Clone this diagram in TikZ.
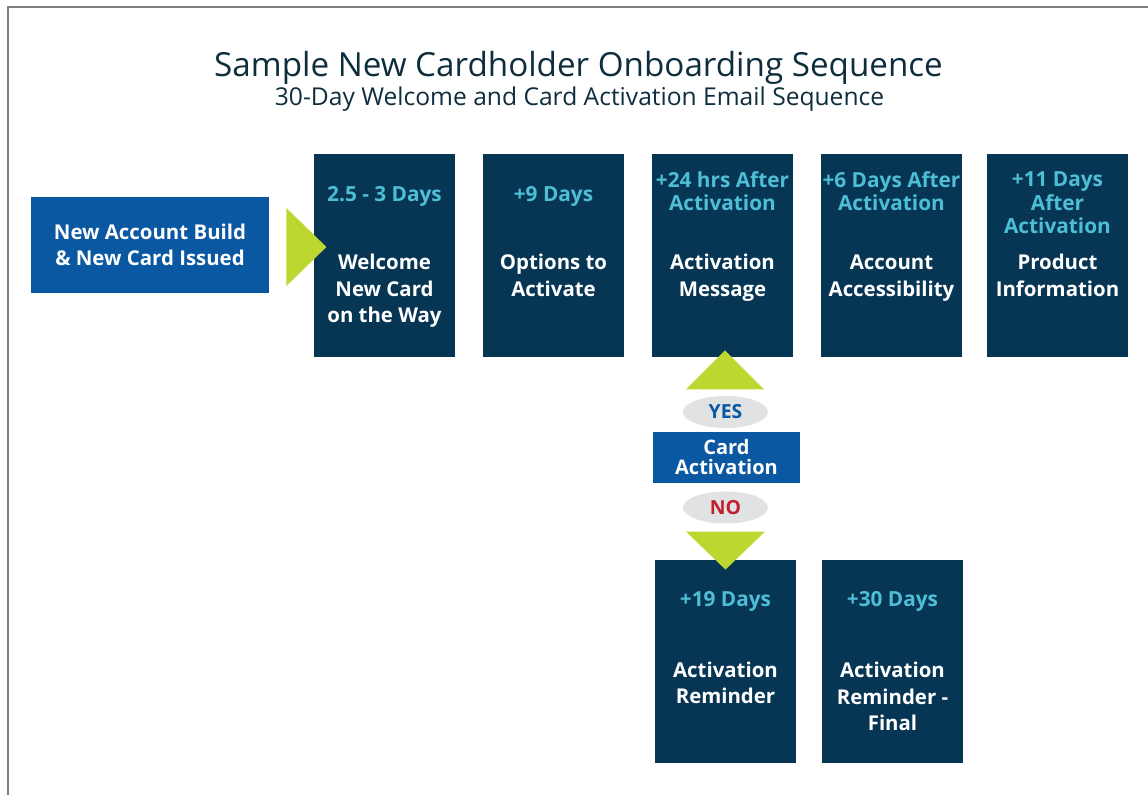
\documentclass[tikz,border=0pt]{standalone}
\usepackage{fontspec}
\setmainfont{Open Sans}
\usetikzlibrary{calc,positioning,shapes.geometric}
\definecolor{navybox}{RGB}{7,54,84}
\definecolor{bluebox}{RGB}{10,87,162}
\definecolor{daycyan}{RGB}{78,190,214}
\definecolor{arrowgreen}{RGB}{190,214,48}
\definecolor{pillgray}{RGB}{225,226,227}
\definecolor{titleink}{RGB}{14,45,61}
\definecolor{noired}{RGB}{192,32,46}
\definecolor{framegray}{RGB}{128,128,128}
\tikzset{
    mailbox/.style={rectangle,fill=navybox,minimum width=70.5pt,minimum height=101.5pt,inner sep=0pt},
    startbox/.style={rectangle,fill=bluebox,text=white,align=center,inner sep=0pt,
        font=\bfseries\fontsize{10.2}{13.25}\selectfont,minimum width=119pt,minimum height=48pt},
    cardbox/.style={rectangle,fill=bluebox,text=white,align=center,inner sep=0pt,
        font=\bfseries\fontsize{10}{10}\selectfont,minimum width=73.5pt,minimum height=25.5pt},
    pill/.style={ellipse,fill=pillgray,inner sep=0pt,minimum width=42.5pt,minimum height=16pt,
        font=\bfseries\fontsize{9.7}{11}\selectfont},
    % anchor=base sits on the last line of a text
    daytxt/.style={text=daycyan,align=center,anchor=base,inner sep=0pt,
        font=\bfseries\fontsize{10.4}{11.75}\selectfont},
    bodytxt/.style={text=white,align=center,anchor=base,inner sep=0pt,
        font=\bfseries\fontsize{10.2}{13.25}\selectfont},
    titletxt/.style={text=titleink,anchor=base,inner sep=0pt,font=\fontsize{16.6}{20}\selectfont},
    subtxt/.style={text=titleink,anchor=base,inner sep=0pt,font=\fontsize{12.3}{15}\selectfont}
}

\begin{document}
\begin{tikzpicture}[x=0.5pt,y=-0.5pt]
  \useasboundingbox (0,0) rectangle (1148,795);
  \draw[framegray,line width=1pt] (7.5,795) -- (7.5,7.5) -- (1148,7.5);

  % title
  \node[titletxt] (title) at (578.5,77) {Sample New Cardholder Onboarding Sequence};
  \node[subtxt] (subtitle) at (579.5,106) {30-Day Welcome and Card Activation Email Sequence};

  \node[startbox] (start) at (150,245) {New Account Build\\\& New Card Issued};

  % emails in the main sequence
  \foreach \n/\x in {b1/384.5,b2/553.5,b3/722.5,b4/891.5,b5/1057.5}{
    \node[mailbox] (\n) at (\x,255.5) {};
  }
  % reminders if the card is not activated
  \foreach \n/\x in {r1/725.5,r2/892.5}{
    \node[mailbox] (\n) at (\x,661.5) {};
  }

  % timing of each email
  \foreach \n/\dy/\t in {b1/47.7/{2.5 - 3 Days},b2/47.7/{+9 Days},
      b3/57/{+24 hrs After\\Activation},b4/57/{+6 Days After\\Activation},
      b5/80/{+11 Days\\After\\Activation},r1/46.7/{+19 Days},r2/46.7/{+30 Days}}{
    \node[daytxt] (\n-day) at ($(\n.north)+(0,\dy)$) {\t};
  }
  % email topics
  \foreach \n/\dy/\t in {b1/169/{Welcome\\New Card\\on the Way},b2/142.5/{Options to\\Activate},
      b3/142.5/{Activation\\Message},b4/142.5/{Account\\Accessibility},
      b5/142.5/{Product\\Information},r1/144.3/{Activation\\Reminder},
      r2/171/{Activation\\Reminder -\\Final}}{
    \node[bodytxt] (\n-topic) at ($(\n.north)+(0,\dy)$) {\t};
  }

  % activation check
  \node[cardbox] (card) at (726.5,457.5) {Card\\Activation};
  \node[pill,text=bluebox] (yes) at (725.5,412) {YES};
  \node[pill,text=noired] (no) at (725.5,507.5) {NO};

  % green pointers
  \fill[arrowgreen] ($(start.east)+(17,-37)$) -- ($(start.east)+(57,2)$) -- ($(start.east)+(17,41)$) -- cycle;
  \fill[arrowgreen] ($(b3.south)+(-36.5,32)$) -- ($(b3.south)+(2.5,-7)$) -- ($(b3.south)+(41.5,32)$) -- cycle;
  \fill[arrowgreen] ($(r1.north)+(-39.5,-28)$) -- ($(r1.north)+(0,10)$) -- ($(r1.north)+(39.5,-28)$) -- cycle;
\end{tikzpicture}
\end{document}
